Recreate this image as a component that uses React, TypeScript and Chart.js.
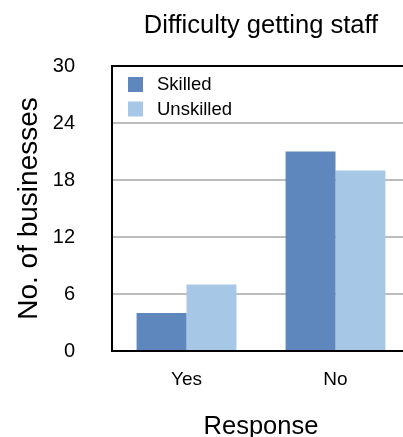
import React, { useEffect, useRef } from "react";
import { Chart, registerables } from "chart.js";

Chart.register(...registerables);

const chartTitle = "Difficulty getting staff";
const categories = ["Yes", "No"];
const seriesNames = ["Skilled", "Unskilled"];
const skilledValues = [4, 21];
const unskilledValues = [7, 19];
const yTicks = [0, 6, 12, 18, 24, 30];
const yAxisTitle = "No. of businesses";
const xAxisTitle = "Response";

const FONT = "'Liberation Sans', Arial, Helvetica, sans-serif";
const SKILLED_COLOR = "#5e87bd";
const UNSKILLED_COLOR = "#a7c7e6";

const overlayPlugin = {
  id: "overlay",
  afterDraw(chart: any) {
    const { ctx, chartArea } = chart;
    ctx.save();
    // Title
    ctx.fillStyle = "#000";
    ctx.font = `25.5px ${FONT}`;
    ctx.textAlign = "center";
    ctx.textBaseline = "middle";
    ctx.fillText(chartTitle, 261, 26);
    // Legend
    ctx.textAlign = "left";
    ctx.font = `18.5px ${FONT}`;
    chart.data.datasets.forEach((ds: any, i: number) => {
      const y = 77 + i * 24.5;
      ctx.fillStyle = ds.backgroundColor;
      ctx.fillRect(chartArea.left + 16, y, 15, 15);
      ctx.fillStyle = "#000";
      ctx.fillText(ds.label, chartArea.left + 45, y + 8);
    });
    ctx.restore();
  },
};

export default function App() {
  const canvasRef = useRef<HTMLCanvasElement | null>(null);

  useEffect(() => {
    if (!canvasRef.current) return;
    const chart = new Chart(canvasRef.current, {
      type: "bar",
      data: {
        labels: categories,
        datasets: [
          {
            label: seriesNames[0],
            data: skilledValues,
            backgroundColor: SKILLED_COLOR,
            categoryPercentage: 0.67,
            barPercentage: 1,
          },
          {
            label: seriesNames[1],
            data: unskilledValues,
            backgroundColor: UNSKILLED_COLOR,
            categoryPercentage: 0.67,
            barPercentage: 1,
          },
        ],
      },
      options: {
        animation: false,
        responsive: false,
        maintainAspectRatio: false,
        layout: { padding: { top: 66, right: 2, left: 0, bottom: 0 } },
        plugins: {
          legend: { display: false },
          title: { display: false },
          tooltip: { enabled: false },
        },
        scales: {
          x: {
            grid: { display: false, drawTicks: false },
            border: { display: true, color: "#000", width: 2 },
            ticks: {
              color: "#000",
              font: { family: FONT, size: 19 },
              padding: 17,
            },
            title: {
              display: true,
              text: xAxisTitle,
              color: "#000",
              font: { family: FONT, size: 25.5, lineHeight: 0.82 },
              padding: { top: 0, bottom: 0 },
            },
            afterFit: (scale: any) => {
              scale.height = 86;
            },
          },
          y: {
            min: yTicks[0],
            max: yTicks[yTicks.length - 1],
            afterBuildTicks: (scale: any) => {
              scale.ticks = yTicks.map((v) => ({ value: v }));
            },
            grid: {
              drawTicks: false,
              lineWidth: 2,
              color: (c: any) =>
                c.tick && (c.tick.value === 30 || c.tick.value === 0) ? "#000" : "#bdbdbd",
            },
            border: { display: true, color: "#000", width: 2 },
            ticks: {
              color: "#000",
              font: { family: FONT, size: 20 },
              padding: 37,
            },
            title: {
              display: true,
              text: yAxisTitle,
              color: "#000",
              font: { family: FONT, size: 28 },
              padding: { top: 12, bottom: 0 },
            },
            afterFit: (scale: any) => {
              scale.width = 112;
            },
          },
        },
      },
      plugins: [overlayPlugin],
    });
    return () => chart.destroy();
  }, []);

  return (
    <div
      style={{
        position: "absolute",
        left: 0,
        top: 0,
        width: 403,
        height: 437,
        overflow: "hidden",
        background: "#fff",
      }}
    >
      <canvas ref={canvasRef} width={412} height={437} style={{ display: "block" }} />
    </div>
  );
}
